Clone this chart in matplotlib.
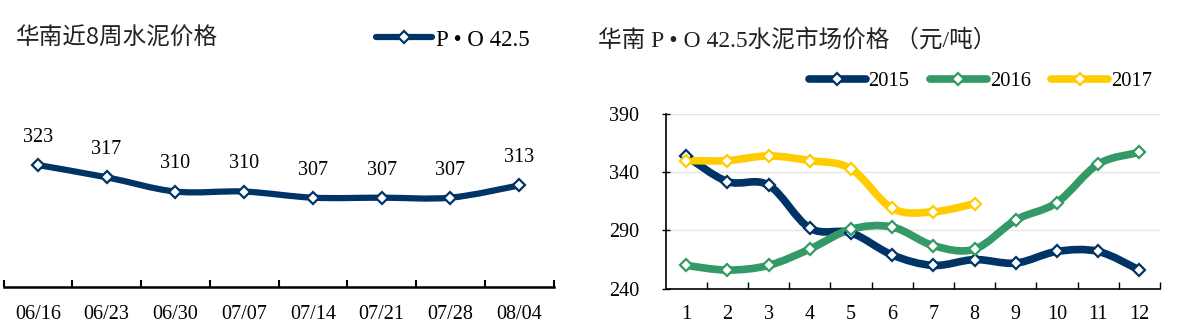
import matplotlib
matplotlib.use("Agg")
import matplotlib.pyplot as plt
from matplotlib.path import Path
from matplotlib.patches import PathPatch
from matplotlib.lines import Line2D


# ---------------------------------------------------------
# DATOS
# ---------------------------------------------------------

weeks = ["06/16", "06/23", "06/30", "07/07", "07/14", "07/21", "07/28", "08/04"]
week_price = [323, 317, 310, 310, 307, 307, 307, 313]

months = [1, 2, 3, 4, 5, 6, 7, 8, 9, 10, 11, 12]
price_2015 = [354, 332, 329, 292, 288, 269, 260, 265, 262, 272, 272, 256]
price_2016 = [260, 256, 260, 274, 291, 293, 277, 274, 299, 314, 347, 357]
price_2017 = [350, 350, 354, 350, 343, 309, 306, 313]

NAVY = "#003366"
GREEN = "#339966"
YELLOW = "#FFCC00"

SERIF = ["Liberation Serif", "Noto Sans CJK SC"]
CJK = ["Noto Sans CJK SC", "DejaVu Sans"]

plt.rcParams["font.family"] = SERIF


def smooth_path(xs, ys):
    # curva tipo "suavizada" de Excel (Bezier, tension 1/6)
    pts = list(zip(xs, ys))
    n = len(pts)
    verts = [pts[0]]
    codes = [Path.MOVETO]
    for i in range(n - 1):
        p0 = pts[i - 1] if i > 0 else pts[i]
        p1 = pts[i]
        p2 = pts[i + 1]
        p3 = pts[i + 2] if i + 2 < n else pts[i + 1]
        c1 = (p1[0] + (p2[0] - p0[0]) / 6, p1[1] + (p2[1] - p0[1]) / 6)
        c2 = (p2[0] - (p3[0] - p1[0]) / 6, p2[1] - (p3[1] - p1[1]) / 6)
        verts += [c1, c2, p2]
        codes += [Path.CURVE4] * 3
    return Path(verts, codes)


def draw_series(ax, xs, ys, color, lw, ms):
    patch = PathPatch(smooth_path(xs, ys), facecolor="none", edgecolor=color,
                      lw=lw, capstyle="round", joinstyle="round", zorder=3)
    ax.add_patch(patch)
    ax.plot(xs, ys, ls="none", marker="D", mfc="white", mec=color,
            ms=ms, mew=1.6, zorder=4)


W, H = 1180, 334
fig = plt.figure(figsize=(W / 100, H / 100), dpi=100)


def box(x0, x1, ytop, ybot):
    return [x0 / W, 1 - ybot / H, (x1 - x0) / W, (ybot - ytop) / H]


# ---------------------------------------------------------
# 1. HUANAN ULTIMAS 8 SEMANAS
# ---------------------------------------------------------

ax1 = fig.add_axes(box(3.5, 553.5, 60, 287))
xs1 = list(range(len(weeks)))
draw_series(ax1, xs1, week_price, NAVY, 4.5, 6.5)

for x, v in zip(xs1, week_price):
    ax1.annotate(str(v), (x, v), xytext=(0, 13), textcoords="offset points",
                 ha="center", va="bottom", fontsize=14.5)

ax1.set_xlim(-0.5, len(weeks) - 0.5)
ax1.set_ylim(263.2, 374.5)
for s in ["top", "left", "right"]:
    ax1.spines[s].set_visible(False)
ax1.spines["bottom"].set_linewidth(1.8)
ax1.set_yticks([])
ax1.set_xticks(xs1)
ax1.set_xticklabels(weeks, fontsize=14.5)
ax1.set_xticks([i - 0.5 for i in range(len(weeks) + 1)], minor=True)
ax1.tick_params(axis="x", which="major", length=0, pad=13)
ax1.tick_params(axis="x", which="minor", direction="in", length=5, width=1.5)

fig.text(16 / W, 1 - 38 / H, "华南近8周水泥价格", family=CJK,
         fontsize=17, va="center", ha="left", color="#222222")

h1 = Line2D([], [], color=NAVY, lw=4.5, marker="D", mfc="white", mec=NAVY,
            ms=6.5, mew=1.6, solid_capstyle="round")
fig.legend([h1], ["P • O 42.5"], loc="center left",
           bbox_to_anchor=(376 / W, 1 - 40 / H), frameon=False, fontsize=16.5,
           handlelength=2.45, handletextpad=0.15, borderpad=0, borderaxespad=0,
           numpoints=1)


# ---------------------------------------------------------
# 2. HUANAN P.O 42.5 PRECIO MERCADO
# ---------------------------------------------------------

ax2 = fig.add_axes(box(665.5, 1160, 114, 288.7))
draw_series(ax2, months, price_2015, NAVY, 5.5, 6.5)
draw_series(ax2, months, price_2016, GREEN, 5.5, 6.5)
draw_series(ax2, months[:len(price_2017)], price_2017, YELLOW, 5.5, 6.5)

ax2.set_xlim(0.5, 12.5)
ax2.set_ylim(240, 390)
ax2.set_yticks([240, 290, 340, 390])
ax2.set_yticklabels(["240", "290", "340", "390"], fontsize=14.5)
ax2.set_xticks(months)
ax2.set_xticklabels([str(m) for m in months], fontsize=14.5)
ax2.set_xticks([m + 0.5 for m in months], minor=True)
ax2.tick_params(axis="x", which="major", length=0, pad=12)
ax2.tick_params(axis="x", which="minor", direction="in", length=5, width=1)
ax2.tick_params(axis="y", direction="inout", length=6, width=1, pad=16)
ax2.grid(axis="y", color="#E6E6E6", lw=1)
ax2.set_axisbelow(True)
for s in ["top", "right"]:
    ax2.spines[s].set_visible(False)
for s in ["left", "bottom"]:
    ax2.spines[s].set_linewidth(1.2)

fig.text(598 / W, 1 - 40 / H, "华南 P • O 42.5水泥市场价格 （元/吨）", family=SERIF,
         fontsize=17, va="center", ha="left", color="#222222")

handles = [
    Line2D([], [], color=c, lw=5.5, marker="D", mfc="white", mec=c, ms=6,
           mew=1.6, solid_capstyle="round")
    for c in [NAVY, GREEN, YELLOW]
]
fig.legend(handles, ["2015", "2016", "2017"], loc="center left",
           bbox_to_anchor=(809 / W, 1 - 81 / H), frameon=False, fontsize=14.8,
           ncol=3, handlelength=2.75, handletextpad=0.15, columnspacing=1.0,
           borderpad=0, borderaxespad=0, numpoints=1)

plt.savefig("out.png", dpi=100)
plt.close()
